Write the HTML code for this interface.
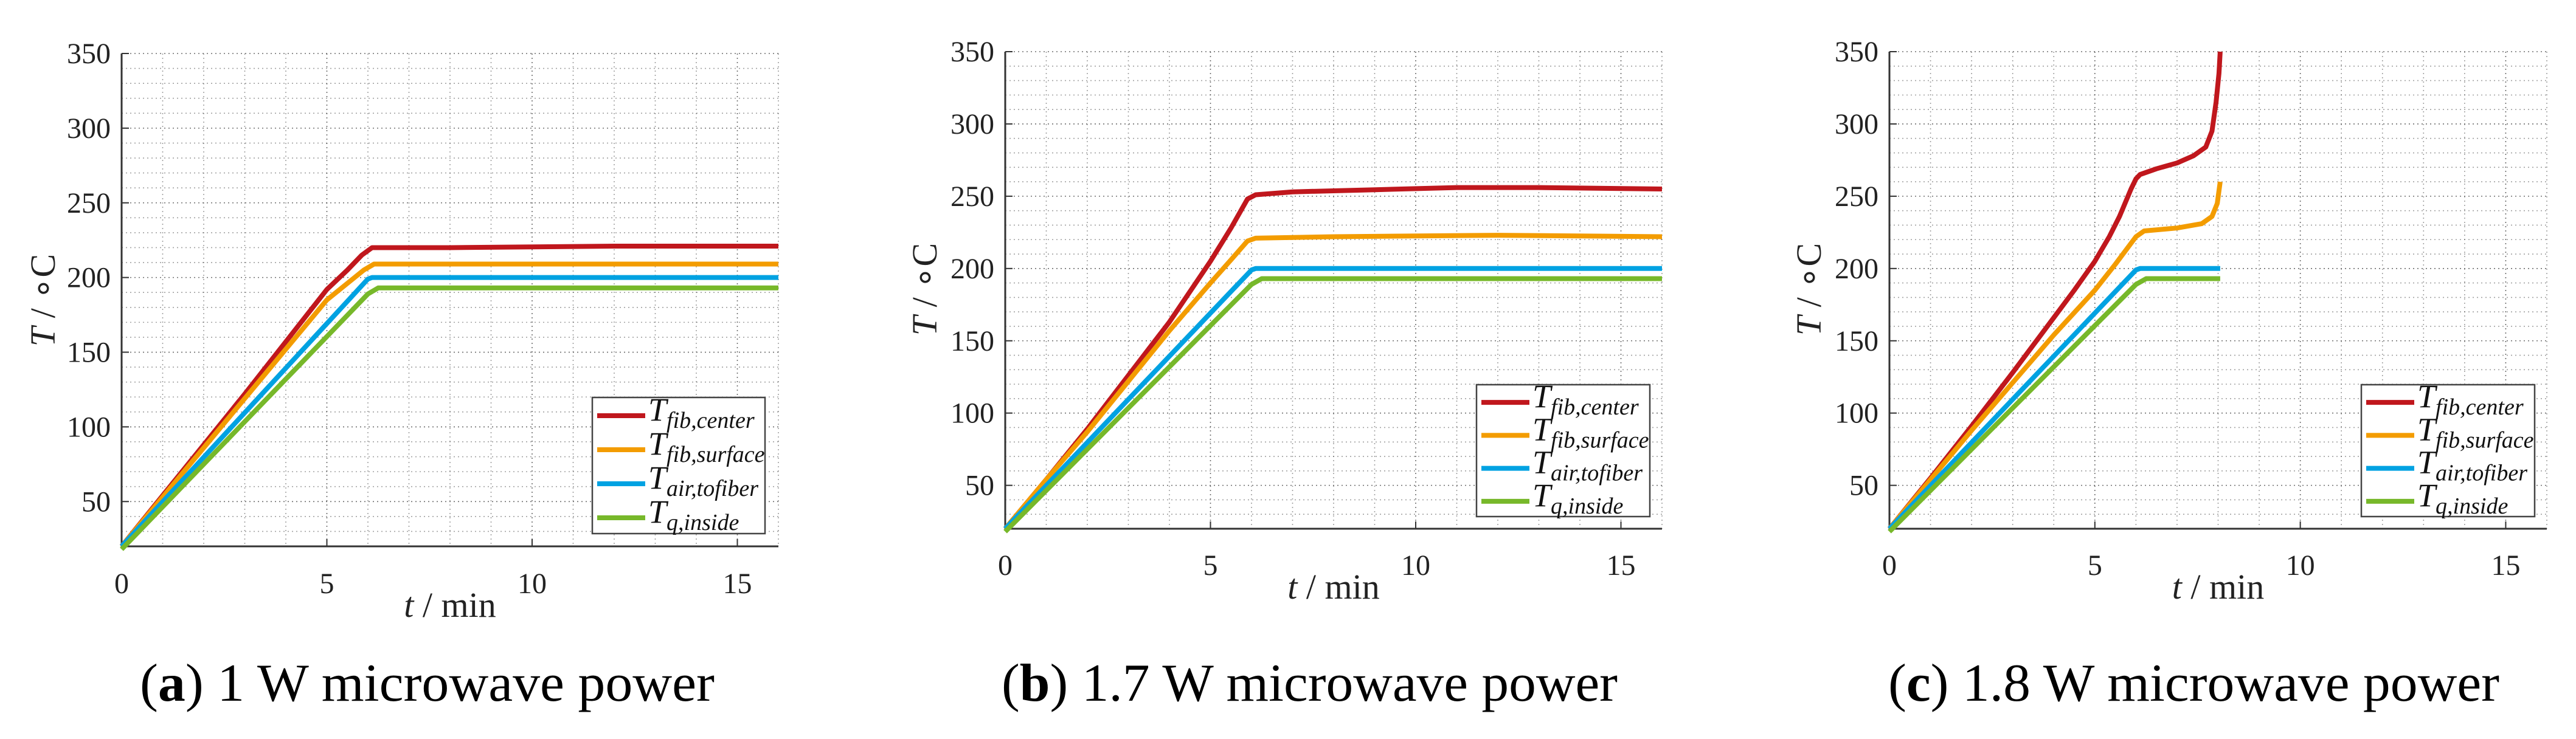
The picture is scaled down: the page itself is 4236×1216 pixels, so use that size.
<!DOCTYPE html>
<html><head><meta charset="utf-8"><style>
html,body{margin:0;padding:0;background:#fff;}
svg{display:block;font-family:"Liberation Serif",serif;}
</style></head><body>
<svg id="fig" width="4236" height="1216" viewBox="0 0 4236 1216"></svg>
<script>
// ---- data ----
const seriesNames = ["fib,center","fib,surface","air,tofiber","q,inside"];
const seriesColors = ["#c0171d","#f39c00","#00a2e2","#77b82a"];
const xTicks = [0,5,10,15];
const yTicks = [50,100,150,200,250,300,350];
// panel a (1 W)
const aT_center = [0,1,2,3,4,5,5.5,5.85,6.1,8,10,12,14,16];
const aV_center = [20,54,88,122,157,192,205,215,220,220,220.5,221,221,221];
const aT_surface = [0,1,2,3,4,5,5.9,6.15,8,12,16];
const aV_surface = [20,53,86,119,152,185,205,209,209,209,209];
const aT_air = [0,6.0,6.1,16];
const aV_air = [20,199,200,200];
const aT_inside = [0,6.0,6.25,16];
const aV_inside = [18,189,193,193];
// panel b (1.7 W)
const bT_center = [0,1,2,3,4,5,5.5,5.9,6.1,7,9,11,13,16];
const bV_center = [20,54,89,126,163,205,228,248,251,253,254.5,256,256,255];
const bT_surface = [0,1,2,3,4,5,5.5,5.9,6.1,8,12,16];
const bV_surface = [20,54,87,122,157,190,206,219,221,222,223,222];
const bT_air = [0,6.0,6.1,16];
const bV_air = [20,199,200,200];
const bT_inside = [0,6.0,6.25,16];
const bV_inside = [18,189,193,193];
// panel c (1.8 W)
const cT_center = [0,1,2,3,4,4.5,5,5.35,5.6,5.88,6.0,6.1,6.5,7,7.4,7.7,7.85,7.95,8.02,8.05];
const cV_center = [20,55,91,128,166,185,205,222,236,255,262,265,269,273,278,284,295,315,335,350];
const cT_surface = [0,1,2,3,4,5,5.5,6.0,6.2,7,7.6,7.85,7.98,8.05];
const cV_surface = [20,54,88,121,154,185,203,222,226,228,231,236,245,260];
const cT_air = [0,6.0,6.1,8.05];
const cV_air = [20,199,200,200];
const cT_inside = [0,6.0,6.25,8.05];
const cV_inside = [18,189,193,193];

const panels = [
 {id:"a", L:200,R:1280,T:88,B:899, cap:["(a)"," 1 W microwave power"], capX:230, capW:945,
  xl:1015, yl:{x:72,y:494}, leg:{x:974,y:654,w:284,h:224}, xtickY:960,
  series:[[aT_center,aV_center],[aT_surface,aV_surface],[aT_air,aV_air],[aT_inside,aV_inside]]},
 {id:"b", L:1653,R:2733,T:85,B:870, cap:["(b)"," 1.7 W microwave power"], capX:1647, capW:1013,
  xl:985, yl:{x:1522,y:476}, leg:{x:2428,y:633,w:285,h:217}, xtickY:930,
  series:[[bT_center,bV_center],[bT_surface,bV_surface],[bT_air,bV_air],[bT_inside,bV_inside]]},
 {id:"c", L:3107,R:4188,T:85,B:870, cap:["(c)"," 1.8 W microwave power"], capX:3105, capW:1005,
  xl:985, yl:{x:2976,y:476}, leg:{x:3883,y:633,w:285,h:217}, xtickY:930,
  series:[[cT_center,cV_center],[cT_surface,cV_surface],[cT_air,cV_air],[cT_inside,cV_inside]]}
];
const NS="http://www.w3.org/2000/svg";
const svg=document.getElementById("fig");
function mk(tag,attrs,parent){const e=document.createElementNS(NS,tag);for(const k in attrs)e.setAttribute(k,attrs[k]);(parent||svg).appendChild(e);return e;}

panels.forEach(p=>{
  const xS=t=>p.L+(t/16)*(p.R-p.L);
  const yS=v=>p.B-((v-20)/330)*(p.B-p.T);
  const g=mk("g",{});
  
  
  const grid=mk("g",{stroke:"#555","stroke-width":1.6,"stroke-dasharray":"2 5"},g);
  
  
  for(let t=1;t<=16;t++) mk("line",{x1:xS(t),x2:xS(t),y1:p.T,y2:p.B,opacity:(t%5==0?0.85:0.55)},grid);
  for(let v=30;v<=350;v+=10) mk("line",{x1:p.L,x2:p.R,y1:yS(v),y2:yS(v),opacity:(v%50==0?0.85:0.55)},grid);
  const ax=mk("path",{d:`M${p.L},${p.T} L${p.L},${p.B} L${p.R},${p.B}`,fill:"none",stroke:"#333","stroke-width":3},g);
  
  
  xTicks.forEach(t=>{
    mk("line",{x1:xS(t),x2:xS(t),y1:p.B,y2:p.B-12,stroke:"#333","stroke-width":2},g);
    const tx=mk("text",{x:xS(t),y:p.xtickY+16,"font-size":48,"text-anchor":"middle",fill:"#222"},g);
    tx.textContent=t;
    
    
  });
  yTicks.forEach(v=>{
    mk("line",{x1:p.L,x2:p.L+12,y1:yS(v),y2:yS(v),stroke:"#333","stroke-width":2},g);
    const ty=mk("text",{x:p.L-18,y:yS(v)+16,"font-size":48,"text-anchor":"end",fill:"#222"},g);
    ty.textContent=v;
    
    
  });
  p.series.forEach((s,i)=>{
    const d=s[0].map((t,k)=>(k?"L":"M")+xS(t).toFixed(1)+","+yS(s[1][k]).toFixed(1)).join(" ");
    const pl=mk("path",{d:d,fill:"none",stroke:seriesColors[i],"stroke-width":8,"stroke-linejoin":"round"},g);
    
    
  });
  const xl=mk("text",{x:(p.L+p.R)/2,y:p.xl,"font-size":58,"text-anchor":"middle",fill:"#222"},g);
  xl.innerHTML='<tspan font-style="italic">t</tspan> / min';
  
  
  const yl=mk("text",{x:0,y:0,"font-size":58,"text-anchor":"middle",fill:"#222",transform:`translate(${p.yl.x+18},${p.yl.y}) rotate(-90)`},g);
  yl.innerHTML='<tspan font-style="italic">T</tspan> / ∘C';
  
  
  const lg=mk("g",{},g);
  
  
  mk("rect",{x:p.leg.x,y:p.leg.y,width:p.leg.w,height:p.leg.h,fill:"#fff",stroke:"#444","stroke-width":2.5},lg);
  const step=p.leg.h/4;
  seriesNames.forEach((n,i)=>{
    const cy=p.leg.y+step*(i+0.5)+2;
    const en=mk("g",{},lg);
    
    
    mk("line",{x1:p.leg.x+8,x2:p.leg.x+87,y1:cy,y2:cy,stroke:seriesColors[i],"stroke-width":8},en);
    const t=mk("text",{x:p.leg.x+92,y:cy+8,"font-size":54,"font-style":"italic",fill:"#111"},en);
    t.innerHTML='T<tspan font-size="38" dy="12">'+n+'</tspan>';
  });
  const cp=mk("text",{x:p.capX,y:1153,"font-size":88,fill:"#000",textLength:p.capW,lengthAdjust:"spacingAndGlyphs"},g);
  cp.innerHTML='(<tspan font-weight="bold">'+p.id+'</tspan>)'+p.cap[1];
  
  
});
</script>
</body></html>
